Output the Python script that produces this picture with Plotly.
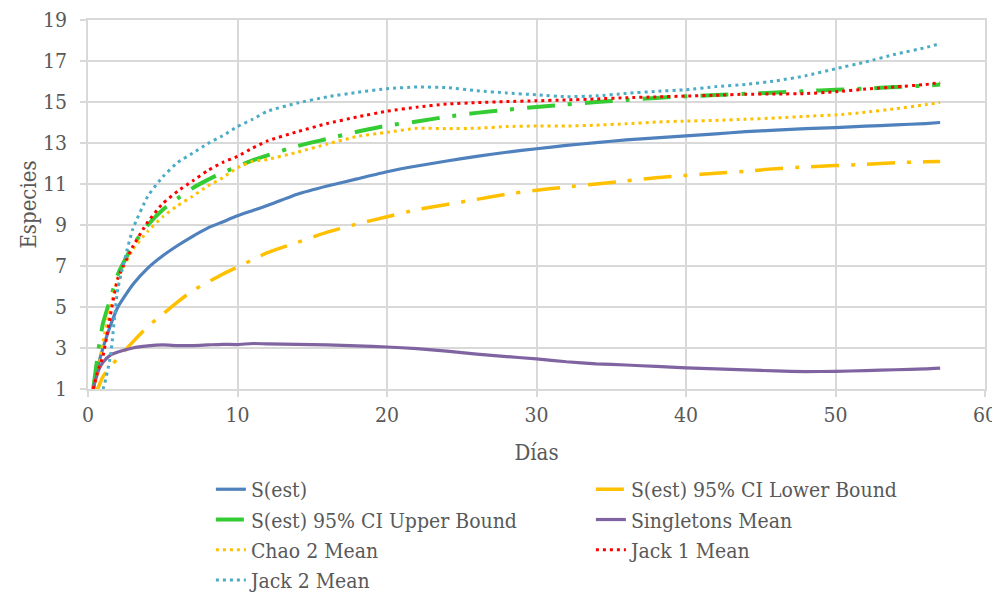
import plotly.graph_objects as go

dias = [0.35, 0.7, 1, 1.5, 2, 3, 4, 5, 6, 7, 8, 9, 10, 11, 12, 14, 16, 18, 20, 22,
        24, 26, 28, 30, 32, 34, 36, 38, 40, 42, 44, 46, 48, 50, 52, 54, 56, 57]

s_est = [1.0, 2.2, 3.0, 4.1, 5.0, 6.1, 6.9, 7.5, 8.0, 8.45, 8.85, 9.15, 9.45, 9.7, 9.95,
         10.5, 10.9, 11.25, 11.6, 11.88, 12.12, 12.35, 12.55, 12.72, 12.88, 13.02, 13.15,
         13.25, 13.35, 13.45, 13.55, 13.63, 13.7, 13.75, 13.82, 13.88, 13.95, 14.0]

lower_95 = [0.6, 1.1, 1.6, 2.1, 2.5, 3.3, 4.05, 4.65, 5.25, 5.8, 6.2, 6.6, 6.95, 7.3, 7.65,
            8.15, 8.65, 9.05, 9.4, 9.75, 10.0, 10.25, 10.5, 10.7, 10.85, 11.0, 11.15,
            11.3, 11.42, 11.52, 11.62, 11.75, 11.83, 11.9, 11.96, 12.04, 12.08, 12.1]

upper_95 = [1.0, 2.9, 4.2, 5.4, 6.6, 8.0, 9.0, 9.75, 10.3, 10.8, 11.2, 11.55, 11.85, 12.15,
            12.4, 12.85, 13.2, 13.55, 13.85, 14.05, 14.28, 14.47, 14.62, 14.76, 14.88,
            15.0, 15.1, 15.2, 15.28, 15.34, 15.4, 15.46, 15.53, 15.6, 15.65, 15.73, 15.8,
            15.85]

singletons = [1.05, 1.9, 2.3, 2.65, 2.8, 3.0, 3.1, 3.15, 3.12, 3.12, 3.15, 3.18, 3.17,
              3.22, 3.2, 3.18, 3.15, 3.1, 3.05, 2.97, 2.85, 2.7, 2.58, 2.47, 2.33, 2.23,
              2.17, 2.1, 2.03, 1.98, 1.93, 1.88, 1.85, 1.86, 1.9, 1.94, 1.98, 2.02]

chao2 = [1.0, 2.0, 3.3, 5.0, 6.4, 7.8, 8.7, 9.4, 9.95, 10.4, 10.9, 11.3, 11.8, 12.1, 12.2,
         12.55, 12.95, 13.32, 13.52, 13.72, 13.7, 13.72, 13.8, 13.83, 13.83, 13.87, 13.94,
         14.02, 14.07, 14.1, 14.16, 14.22, 14.3, 14.37, 14.5, 14.67, 14.87, 14.97]

jack1 = [1.0, 2.0, 2.6, 4.6, 6.4, 7.95, 9.15, 10.05, 10.65, 11.15, 11.65, 12.05, 12.35,
         12.75, 13.1, 13.55, 13.95, 14.27, 14.55, 14.75, 14.9, 14.97, 15.02, 15.06, 15.1,
         15.15, 15.21, 15.25, 15.29, 15.33, 15.38, 15.39, 15.41, 15.5, 15.63, 15.74,
         15.85, 15.95]

jack2 = [0.5, 0.8, 1.0, 2.6, 5.9, 8.8, 10.4, 11.35, 12.05, 12.5, 12.97, 13.35, 13.8, 14.15,
         14.55, 14.95, 15.25, 15.47, 15.65, 15.73, 15.7, 15.55, 15.44, 15.35, 15.26, 15.3,
         15.42, 15.52, 15.6, 15.75, 15.86, 16.03, 16.28, 16.62, 16.95, 17.33, 17.65, 17.85]

series_names = ["S(est)", "S(est) 95% CI Lower Bound", "S(est) 95% CI Upper Bound",
                "Singletons Mean", "Chao 2 Mean", "Jack 1 Mean", "Jack 2 Mean"]
series_values = [s_est, lower_95, upper_95, singletons, chao2, jack1, jack2]
colors = ["#4F81BD", "#FFC000", "#33CC33", "#8064A2", "#FFC000", "#FF0000", "#4BACC6"]
widths = [3.2, 3.5, 4, 3.2, 3, 3, 3]
dashes = ["solid", "28px,12px,4px,12px", "28px,13px,4px,13px", "solid",
          "3px,4px", "3px,4px", "3px,4px"]

FONT = "DejaVu Serif Condensed, DejaVu Serif, serif"
GREY = "#595959"
GRID = "#d9d9d9"

fig = go.Figure()
for name, vals, c, w, d in zip(series_names, series_values, colors, widths, dashes):
    fig.add_trace(go.Scatter(
        x=dias, y=vals, name=name, mode="lines",
        line=dict(color=c, width=w, dash=d, shape="spline", smoothing=0.5),
    ))

fig.update_layout(
    width=1000, height=593,
    paper_bgcolor="white", plot_bgcolor="white",
    margin=dict(l=80, r=23, t=12, b=212, autoexpand=False),
    font=dict(family=FONT, size=21, color=GREY),
    showlegend=True,
    legend=dict(
        orientation="h", x=0.137, xanchor="left", y=-0.217, yanchor="top",
        entrywidth=335, entrywidthmode="pixels",
        font=dict(family=FONT, size=21, color=GREY),
        bgcolor="rgba(0,0,0,0)", traceorder="normal",
    ),
)
fig.update_xaxes(
    range=[0, 60], dtick=10, tick0=0, automargin=False,
    showgrid=True, gridcolor=GRID, gridwidth=1.5,
    showline=True, linecolor=GRID, linewidth=1.5, mirror=True,
    ticks="outside", ticklen=6, tickcolor=GRID, tickwidth=1.5,
    zeroline=False,
    title=dict(text="Días", font=dict(family=FONT, size=22, color=GREY), standoff=19),
    tickfont=dict(family=FONT, size=21, color=GREY),
)
fig.update_yaxes(
    range=[1, 19], dtick=2, tick0=1, automargin=False,
    showgrid=True, gridcolor=GRID, gridwidth=1.5,
    showline=True, linecolor=GRID, linewidth=1.5, mirror=True,
    ticks="outside", ticklen=6, tickcolor=GRID, tickwidth=1.5,
    ticklabelstandoff=9,
    zeroline=False,
    title=dict(text="Especies", font=dict(family=FONT, size=22, color=GREY), standoff=0),
    tickfont=dict(family=FONT, size=21, color=GREY),
)

fig.write_html("out.html")
